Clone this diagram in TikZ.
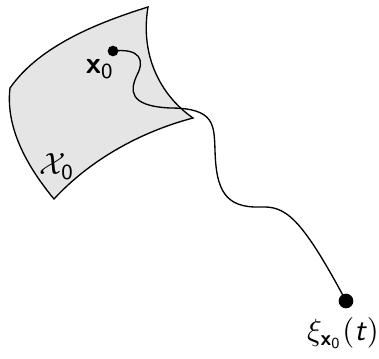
\documentclass[tikz,border=0pt]{standalone}
\usepackage{tikz}
\usepackage{amsmath,amssymb}
\tikzset{lbl/.style={scale=2.3,transform shape},
dot/.style={circle,fill=black,inner sep=0pt}}
\begin{document}
\begin{tikzpicture}[x=0.75pt,y=-0.75pt,line width=1pt]
\useasboundingbox (0,0) rectangle (379,358);
\filldraw[fill=gray!20]
(10,88) .. controls (40,45) and (100,22) .. (148,7)
 .. controls (140,55) and (160,95) .. (193,118)
 .. controls (140,132) and (90,160) .. (54,199)
 .. controls (30,170) and (5,130) .. cycle;
\node[dot,minimum size=8pt] (x0) at (113,51) {};
\node[dot,minimum size=11pt] (xi) at (346,301) {};
\node[lbl] (x0lbl) at (100,69) {\textsf{\textbf{x}}$_{\textsf{0}}$};
\node[lbl] (X0) at (57,167) {$\mathcal{X}_{\textsf{0}}$};
\node[lbl] (xilbl) at (343,333) {$\xi_{\textsf{\textbf{x}}_{\textsf{0}}}(\textsf{\textit{t}})$};
\draw (x0.center) .. controls (140,48) and (145,60) .. (137,75)
 .. controls (130,90) and (128,106) .. (170,108)
 .. controls (215,108) and (214,125) .. (215,150)
 .. controls (216,190) and (225,208) .. (260,207)
 .. controls (285,206) and (300,215) .. (xi.center);
\end{tikzpicture}
\end{document}
